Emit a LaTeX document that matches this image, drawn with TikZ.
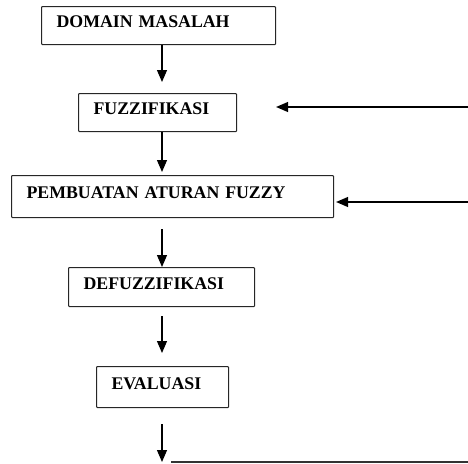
\documentclass[tikz,border=0pt]{standalone}
\usepackage{fontspec}
\setmainfont{Liberation Serif}
\usetikzlibrary{arrows.meta}
\tikzset{
  stepbox/.style = {draw = black!85, line width = 1.1pt, rounded corners = 0.8pt,
    anchor = north west, align = left, inner xsep = 15pt, inner ysep = 0pt,
    text height = 12pt, text depth = 8pt,
    font = \fontsize{17.8}{20}\selectfont\bfseries},
  arr/.style = {line width = 1.2pt, -{Triangle[width = 10pt, length = 12pt]}},
}

\begin{document}
\begin{tikzpicture}[x = 1pt, y = -1pt]
\useasboundingbox (0,0) rectangle (468,463);
\node (dom) [stepbox, text width = 204pt, minimum height = 38pt] at (41,6) {DOMAIN MASALAH};
\node (fuz) [stepbox, text width = 128pt, minimum height = 38pt] at (78,93) {FUZZIFIKASI};
\node (atr) [stepbox, text width = 292pt, minimum height = 42pt] at (11,175) {PEMBUATAN ATURAN FUZZY};
\node (def) [stepbox, text width = 156pt, minimum height = 39pt] at (68,267) {DEFUZZIFIKASI};
\node (eva) [stepbox, text width = 102pt, minimum height = 41pt] at (96,366) {EVALUASI};
\coordinate (ax) at (162,0);
\coordinate (fb1) at (468,107);
\coordinate (fb2) at (468,202);
\coordinate (out) at (162,462);
\coordinate (outl) at (171,462);
\coordinate (outr) at (468,462);
\draw [arr, shorten > = 11pt] (ax |- dom.south) -- (ax |- fuz.north);
\draw [arr, shorten > = 3pt] (ax |- fuz.south) -- (ax |- atr.north);
\draw [arr, shorten < = 11pt] (ax |- atr.south) -- (ax |- def.north);
\draw [arr, shorten < = 9pt, shorten > = 13pt] (ax |- def.south) -- (ax |- eva.north);
\draw [arr, shorten < = 16pt] (ax |- eva.south) -- (out);
\draw [line width = 1.2pt, black!80] (outl) -- (outr);
\draw [arr, shorten > = 39pt] (fb1) -- (fb1 -| fuz.east);
\draw [arr, shorten > = 2pt] (fb2) -- (fb2 -| atr.east);
\end{tikzpicture}
\end{document}
